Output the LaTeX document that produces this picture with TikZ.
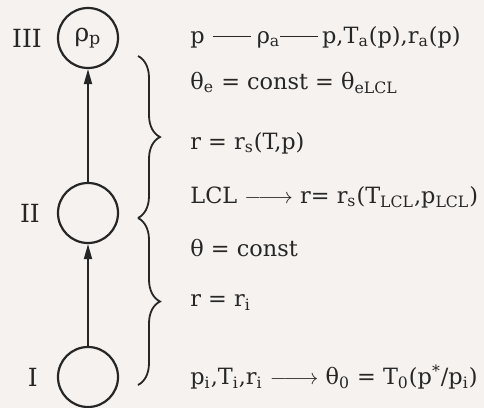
\documentclass[tikz,border=0pt]{standalone}
\usepackage{fontspec}
\setmainfont{DejaVu Serif}
\usetikzlibrary{arrows.meta,positioning,decorations.pathreplacing}
\definecolor{scanPaper}{HTML}{F6F2F0}
\definecolor{scanInk}{HTML}{262626}
\tikzset{
  stage/.style={circle,draw=scanInk,line width=1.1pt,minimum size=30pt,inner sep=0pt,
    font=\fontsize{12.5}{14}\selectfont,text=scanInk},
  stagelabel/.style={font=\fontsize{12.5}{14}\selectfont,text=scanInk},
  relation/.style={anchor=west,inner sep=0pt,text height=1.7ex,text depth=0.5ex,
    font=\fontsize{11.2}{13}\selectfont,text=scanInk},
  arrow/.style={-{Triangle[length=7.5pt,width=4pt]},line width=0.9pt,draw=scanInk},
  bracket/.style={decorate,decoration={brace,amplitude=11pt},line width=0.9pt,draw=scanInk}
}
\newcommand{\dashbar}{\rule[0.55ex]{1.7em}{0.55pt}}
\newcommand{\leadsarrow}{$\relbar\joinrel\longrightarrow$}

\begin{document}
\begin{tikzpicture}[x=0.5pt,y=-0.5pt]
  \fill[scanPaper] (0,0) rectangle (484,408);
  \useasboundingbox (0,0) rectangle (484,408);
  % stages
  \node[stage] (III) at (88,38) {ρ\textsubscript{p}};
  \node[stage] (II) at (88,213) {};
  \node[stage] (I) at (88,377) {};
  \node[stagelabel, left=4pt of III] (labIII) {III};
  \node[stagelabel, left=5pt of II] (labII) {II};
  \node[stagelabel, left=6pt of I] (labI) {I};
  \draw[arrow] (I) -- (II);
  \draw[arrow] (II) -- (III);
  % braces
  \coordinate (brTop) at (138,56);
  \coordinate (brMid) at (138,218);
  \coordinate (brBot) at (138,385);
  \draw[bracket] (brTop) -- (brMid);
  \draw[bracket] (brMid) -- (brBot);
  % relations
  \node[relation] (rel1) at (190,37) {p\hspace{4pt}\dashbar\hspace{3pt}ρ\textsubscript{a}\dashbar\,p,T\textsubscript{a}(p),r\textsubscript{a}(p)};
  \node[relation] (rel2) at (190,83) {θ\textsubscript{e} = const = θ\textsubscript{eLCL}};
  \node[relation] (rel3) at (190,143) {r = r\textsubscript{s}(T,p)};
  \node[relation] (rel4) at (190,197) {LCL \leadsarrow{} r= r\textsubscript{s}(T\textsubscript{LCL},p\textsubscript{LCL})};
  \node[relation] (rel5) at (190,250) {θ = const};
  \node[relation] (rel6) at (190,300) {r = r\textsubscript{i}};
  \node[relation] (rel7) at (190,378) {p\textsubscript{i},T\textsubscript{i},r\textsubscript{i} \leadsarrow{} θ\textsubscript{0} = T\textsubscript{0}(p\textsuperscript{*}/p\textsubscript{i})};
\end{tikzpicture}
\end{document}
